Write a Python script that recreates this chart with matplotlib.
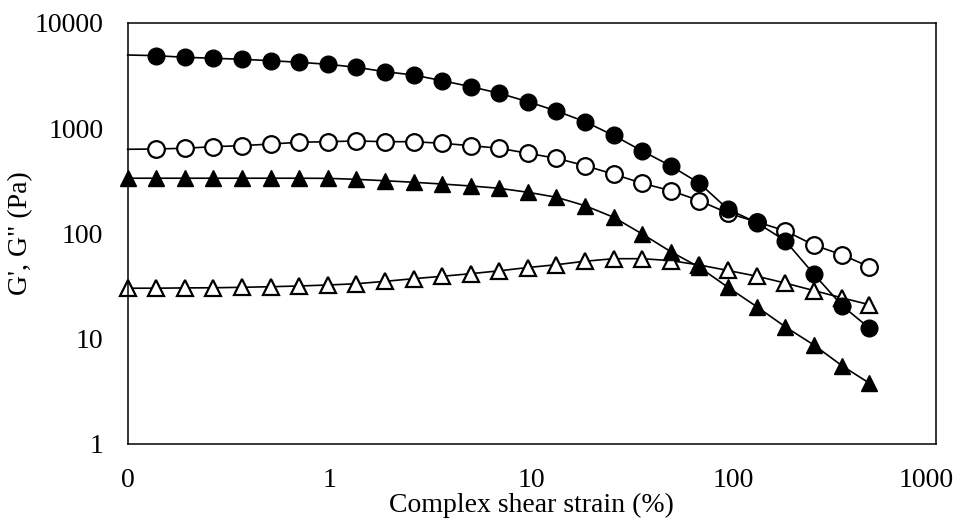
import numpy as np
import matplotlib
matplotlib.use("Agg")
import matplotlib.pyplot as plt
import matplotlib.transforms as mtransforms
from matplotlib.ticker import FixedLocator, FuncFormatter, NullLocator

# complex shear strain (%)
strain = [0.1, 0.1385, 0.1919, 0.2658, 0.3682, 0.510, 0.7066, 0.979, 1.356,
          1.878, 2.602, 3.604, 4.993, 6.916, 9.58, 13.27, 18.38, 25.46,
          35.27, 48.86, 67.68, 93.75, 129.9, 179.9, 249.2, 345.2, 467.7]

# filled circles (first point has no marker in the original)
g_fc = [4966, 4890, 4722, 4620, 4520, 4383, 4232, 4051, 3794, 3446, 3206,
        2831, 2483, 2148, 1788, 1458, 1154, 853, 608, 438, 300, 170, 127,
        85.5, 41.2, 20.5, 12.7]
# open circles (first point has no marker either)
g_oc = [631, 635, 645, 668, 683, 708, 735, 745, 757, 745, 745, 719, 683, 645,
        578, 518, 441, 366, 300, 255, 205, 156, 129, 106, 77.8, 62.5, 48.4]
# filled triangles
g_ft = [335, 335, 335, 335, 335, 335, 335, 334, 327, 317, 306.6, 295, 282.7,
        268.8, 246.3, 220.8, 183.7, 142.5, 98.9, 67.1, 47.7, 30.8, 20.2,
        13.0, 8.73, 5.51, 3.80]
# open triangles
g_ot = [30.2, 30.2, 30.4, 30.5, 30.8, 31.2, 31.7, 32.4, 33.3, 35.1, 37.2,
        39.2, 41.5, 44.2, 47.5, 50.5, 54.5, 57.6, 57.6, 55.2, 50.2, 44.5,
        39.3, 33.8, 28.7, 24.4, 21.1]

x_ticks = [0.1, 1, 10, 100, 1000]
y_ticks = [1, 10, 100, 1000, 10000]

plt.rcParams['font.family'] = 'Liberation Serif'

fig = plt.figure(figsize=(9.57, 5.2), dpi=100)
ax = fig.add_axes([0.1334, 0.1462, 0.8443, 0.8096])

n = len(strain)
ms = 12
ax.plot(strain, g_ot, color='black', lw=1.2, marker='^', ms=ms,
        mfc='white', mec='black', mew=1.6, zorder=2, clip_on=False)
ax.plot(strain, g_ft, color='black', lw=1.2, marker='^', ms=ms,
        mfc='black', mec='black', zorder=3, clip_on=False)
ax.plot(strain, g_oc, color='black', lw=1.2, marker='o', ms=ms,
        mfc='white', mec='black', mew=1.6, markevery=list(range(1, n)),
        zorder=4, clip_on=False)
ax.plot(strain, g_fc, color='black', lw=1.2, marker='o', ms=ms,
        mfc='black', mec='black', markevery=list(range(1, n)),
        zorder=5, clip_on=False)

ax.set_xscale('log')
ax.set_yscale('log')
ax.set_xlim(0.1, 1000)
ax.set_ylim(1, 10000)

ax.xaxis.set_major_locator(FixedLocator(x_ticks))
ax.yaxis.set_major_locator(FixedLocator(y_ticks))
ax.xaxis.set_minor_locator(NullLocator())
ax.yaxis.set_minor_locator(NullLocator())
ax.xaxis.set_major_formatter(FuncFormatter(lambda v, p: f"{v:.0f}"))
ax.yaxis.set_major_formatter(FuncFormatter(lambda v, p: f"{v:.0f}"))
ax.tick_params(axis='both', length=0, labelsize=20)
ax.tick_params(axis='x', pad=17)
ax.tick_params(axis='y', pad=17.5)

for sp in ax.spines.values():
    sp.set_linewidth(1.1)
    sp.set_color('black')

ax.set_xlabel("Complex shear strain (%)", fontsize=20, labelpad=0)
ax.set_ylabel("G', G\" (Pa)", fontsize=20)
ax.yaxis.set_label_coords(-0.117, 0.5)

# the last x label is pulled in so it fits the figure, like in the original
fig.canvas.draw()
last = ax.get_xticklabels()[-1]
last.set_transform(last.get_transform() +
                   mtransforms.ScaledTranslation(-9 / 100, 0, fig.dpi_scale_trans))

fig.savefig("out.png", dpi=100)
